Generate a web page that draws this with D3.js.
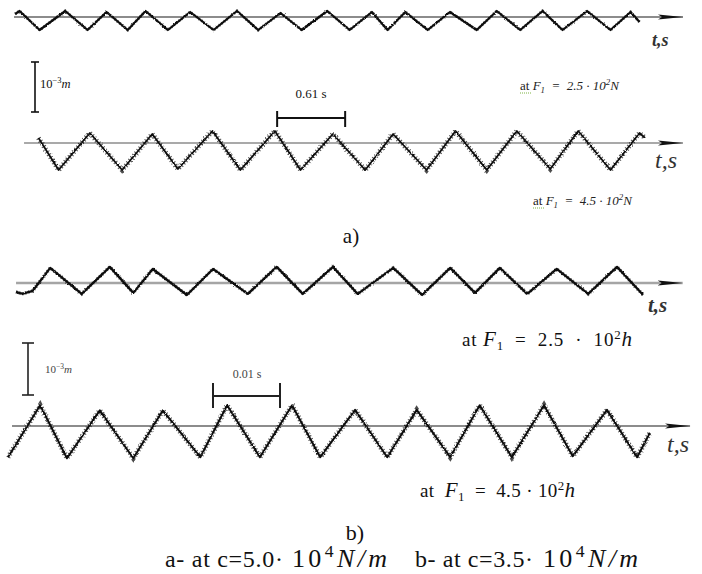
<!DOCTYPE html>
<html>
<head>
<meta charset="utf-8">
<script src="https://cdn.jsdelivr.net/npm/d3@7"></script>
<style>
body { margin: 0; background: #fff; }
svg { display: block; }
</style>
</head>
<body>
<div class="chart"></div>
<script>
// panel a: time in s, displacement in mm (10^-3 m)
var a1Time = [0.01,0.05,0.23,0.46,0.66,0.83,1.02,1.18,1.38,1.58,1.79,2.00,2.19,2.39,2.58,2.81,3.01,3.21,3.35,3.51,3.71,3.91,4.15,4.33,4.54,4.74,4.92,5.14,5.35,5.53,5.61];
var a1Disp = [0.06,0.12,-0.26,0.12,-0.26,0.10,-0.26,0.12,-0.26,0.10,-0.26,0.12,-0.26,0.08,-0.26,0.12,-0.26,0.10,-0.26,0.10,-0.26,0.10,-0.26,0.12,-0.26,0.12,-0.26,0.12,-0.26,0.10,-0.10];

var a2Time = [0.22,0.40,0.68,0.97,1.24,1.47,1.78,2.03,2.34,2.57,2.86,3.15,3.40,3.70,3.96,4.24,4.51,4.81,5.06,5.35,5.61,5.66];
var a2Disp = [0.10,-0.54,0.20,-0.54,0.18,-0.52,0.24,-0.54,0.24,-0.54,0.18,-0.54,0.18,-0.54,0.24,-0.54,0.24,-0.52,0.24,-0.54,0.20,0.10];

// panel b: time in ms, displacement in mm
var b1Time = [1.2,2.1,3.7,6.3,11.0,15.2,18.7,21.6,26.7,30.6,35.8,40.1,44.0,48.5,52.2,57.5,61.8,66.0,69.7,73.4,77.5,81.9,86.6,90.9,94.8];
var b1Disp = [-0.17,-0.21,-0.15,0.29,-0.21,0.31,-0.19,0.27,-0.23,0.27,-0.21,0.31,-0.21,0.31,-0.21,0.29,-0.23,0.29,-0.19,0.29,-0.21,0.27,-0.21,0.31,-0.23];

var b2Time = [0,4.8,8.8,13.7,18.7,23.1,28.7,32.7,37.6,42.4,46.6,51.8,56.6,61.0,66.0,70.4,75.2,80.0,84.3,89.4,93.9,95.8];
var b2Disp = [-0.60,0.40,-0.62,0.30,-0.62,0.30,-0.60,0.40,-0.60,0.40,-0.60,0.31,-0.60,0.31,-0.60,0.40,-0.60,0.40,-0.58,0.31,-0.60,-0.13];

// scale bars
var dispBar = 1;                 // 10^-3 m
var periodBarA = [2.36, 0.61];   // start, length (s)
var periodBarB = [30.6, 10];     // start, length (ms) -> 0.01 s

var serif = "'Liberation Serif', 'Times New Roman', Times, 'DejaVu Serif', serif";

var width = 702, height = 574;

var svg = d3.select(".chart").append("svg")
    .attr("width", width)
    .attr("height", height);

var defs = svg.append("defs");
defs.append("marker")
    .attr("id", "arrow")
    .attr("markerUnits", "userSpaceOnUse")
    .attr("markerWidth", 26).attr("markerHeight", 8)
    .attr("refX", 25).attr("refY", 4)
    .attr("orient", "auto")
    .append("path")
    .attr("d", "M0,1.5 L25,4 L0,6.5 L4,4 Z")
    .attr("fill", "#111");

var rough = defs.append("filter")
    .attr("id", "rough")
    .attr("filterUnits", "userSpaceOnUse")
    .attr("x", 0).attr("y", 0).attr("width", width).attr("height", height);
rough.append("feTurbulence")
    .attr("type", "fractalNoise").attr("baseFrequency", 0.9)
    .attr("numOctaves", 1).attr("seed", 4).attr("result", "noise");
rough.append("feDisplacementMap")
    .attr("in", "SourceGraphic").attr("in2", "noise")
    .attr("scale", 2.4)
    .attr("xChannelSelector", "R").attr("yChannelSelector", "G");

var xA = d3.scaleLinear().domain([0, 6]).range([14, 683]);
var xB = d3.scaleLinear().domain([0, 100]).range([8, 678]);

function yScale(base, pxPerMm) {
    return d3.scaleLinear().domain([-1, 1]).range([base + pxPerMm, base - pxPerMm]);
}

var traces = [
    { t: a1Time, d: a1Disp, x: xA, y: yScale(17, 50), axis: [0, 6], axisColor: "#8c8c8c", axisWidth: 2, width: 2.2, fuzz: 3 },
    { t: a2Time, d: a2Disp, x: xA, y: yScale(143, 50), axis: [0.09, 6], axisColor: "#555", axisWidth: 1.2, width: 1.8, fuzz: 5 },
    { t: b1Time, d: b1Disp, x: xB, y: yScale(283, 52), axis: [1.2, 100.7], axisColor: "#a5a5a5", axisWidth: 2.4, width: 2.3, fuzz: 3.5 },
    { t: b2Time, d: b2Disp, x: xB, y: yScale(426, 52), axis: [0.6, 101.8], axisColor: "#666", axisWidth: 1.4, width: 2, fuzz: 5 }
];

traces.forEach(function(tr) {
    var pts = tr.t.map(function(t, i) { return [t, tr.d[i]]; });
    var line = d3.line()
        .x(function(p) { return tr.x(p[0]); })
        .y(function(p) { return tr.y(p[1]); });

    svg.append("line")
        .attr("x1", tr.x(tr.axis[0])).attr("x2", tr.x(tr.axis[1]))
        .attr("y1", tr.y(0)).attr("y2", tr.y(0))
        .attr("stroke", tr.axisColor)
        .attr("stroke-width", tr.axisWidth)
        .attr("marker-end", "url(#arrow)");

    var g = svg.append("g").attr("filter", "url(#rough)");
    g.append("path")
        .attr("d", line(pts))
        .attr("fill", "none")
        .attr("stroke", "#111")
        .attr("stroke-width", tr.fuzz)
        .attr("stroke-dasharray", "1,2.2")
        .attr("opacity", 0.75);
    g.append("path")
        .attr("d", line(pts))
        .attr("fill", "none")
        .attr("stroke", "#111")
        .attr("stroke-width", tr.width)
        .attr("stroke-linejoin", "round");
});

// scale bars
function vBar(x, y, cap, color) {
    svg.append("line").attr("x1", x).attr("x2", x)
        .attr("y1", y(0)).attr("y2", y(dispBar))
        .attr("stroke", color).attr("stroke-width", 1.6);
    [0, dispBar].forEach(function(v) {
        svg.append("line").attr("x1", x - cap).attr("x2", x + cap)
            .attr("y1", y(v)).attr("y2", y(v))
            .attr("stroke", color).attr("stroke-width", 1.6);
    });
}
function hBar(x, bar, yy, capTop, capBottom, color) {
    svg.append("line").attr("x1", x(bar[0])).attr("x2", x(bar[0] + bar[1]))
        .attr("y1", yy).attr("y2", yy)
        .attr("stroke", color).attr("stroke-width", 2);
    [bar[0], bar[0] + bar[1]].forEach(function(v) {
        svg.append("line").attr("x1", x(v)).attr("x2", x(v))
            .attr("y1", capTop).attr("y2", capBottom)
            .attr("stroke", color).attr("stroke-width", 2);
    });
}

vBar(35, d3.scaleLinear().domain([0, 1]).range([112, 62]), 4, "#111");
hBar(xA, periodBarA, 118, 111, 127, "#111");
vBar(28, d3.scaleLinear().domain([0, 1]).range([395, 343]), 6, "#222");
hBar(xB, periodBarB, 396, 383, 408, "#222");

// text helper; opts.len stretches the text to a width with letter-spacing
function richText(x, y, size, parts, opts) {
    opts = opts || {};
    var t = svg.append("text")
        .attr("x", x).attr("y", y)
        .attr("font-family", serif)
        .attr("font-size", size)
        .attr("fill", opts.fill || "#111")
        .attr("text-anchor", opts.anchor || "start")
        .style("white-space", "pre");
    if (opts.italic) t.attr("font-style", "italic");
    if (opts.weight) t.attr("font-weight", opts.weight);
    var shift = 0, chars = 0;
    parts.forEach(function(p) {
        var s = typeof p === "string" ? { s: p } : p;
        var sp = t.append("tspan").text(s.s);
        chars += s.s.length;
        var target = s.sup ? -0.38 * size : s.sub ? 0.22 * size : 0;
        if (target !== shift) sp.attr("dy", target - shift);
        shift = target;
        if (s.sup || s.sub) sp.attr("font-size", size * 0.68);
        if (s.size) sp.attr("font-size", s.size);
        if (s.it) sp.attr("font-style", "italic");
        if (s.up) sp.attr("font-style", "normal");
    });
    if (opts.len) {
        var w = t.node().getComputedTextLength();
        var ls = Math.max(0, (opts.len - w) / Math.max(1, chars - 1));
        t.style("letter-spacing", ls + "px");
    }
    return t;
}

// panel a texts
richText(40, 88, 12.5, ["10", { s: "−3", sup: true }, { s: "m", it: true }]);
richText(311, 98, 13, ["0.61 s"], { anchor: "middle" });
richText(520, 90, 13, [{ s: "at ", up: true }, { s: "F", it: true }, { s: "1", sub: true }, "  =  2.5 · 10", { s: "2", sup: true }, { s: "N", it: true }], { italic: true, fill: "#222" });
richText(533, 205, 13, [{ s: "at ", up: true }, { s: "F", it: true }, { s: "1", sub: true }, "  =  4.5 · 10", { s: "2", sup: true }, { s: "N", it: true }], { italic: true, fill: "#222" });
[[520, 93], [533, 208]].forEach(function(p) {
    svg.append("line").attr("x1", p[0]).attr("x2", p[0] + 11)
        .attr("y1", p[1]).attr("y2", p[1])
        .attr("stroke", "#7cb342").attr("stroke-width", 1)
        .attr("stroke-dasharray", "1,1");
});

richText(652, 46, 18, ["t,s"], { italic: true, weight: "bold", fill: "#333" });
richText(655, 168, 24, ["t,s"], { italic: true, fill: "#333" });
richText(351, 243, 21, ["a)"], { anchor: "middle" });

// panel b texts
richText(45, 373, 11, ["10", { s: "−3", sup: true }, { s: "m", it: true }], { fill: "#444" });
richText(247, 378, 12, ["0.01 s"], { anchor: "middle", fill: "#444" });
richText(648, 312, 21, ["t,s"], { italic: true, weight: "bold", fill: "#333" });
richText(667, 452, 24, ["t,s"], { italic: true, fill: "#333" });
richText(462, 346, 19, ["at ", { s: "F", it: true, size: 21 }, { s: "1", sub: true }, "  =  2.5  ·  10", { s: "2", sup: true }, { s: "h", it: true, size: 21 }], { len: 170 });
richText(420, 497, 19, ["at  ", { s: "F", it: true, size: 21 }, { s: "1", sub: true }, "  =  4.5 · 10", { s: "2", sup: true }, { s: "h", it: true, size: 21 }], { len: 155 });
richText(355, 540, 22, ["b)"], { anchor: "middle" });

// caption
richText(165, 567, 24, ["a- at c=5.0·"], { len: 118 });
richText(292, 567, 26, ["10", { s: "4", sup: true }, { s: "N/m", it: true }], { len: 95 });
richText(415, 567, 24, ["b- at c=3.5·"], { len: 118 });
richText(543, 567, 26, ["10", { s: "4", sup: true }, { s: "N/m", it: true }], { len: 95 });
</script>
</body>
</html>
